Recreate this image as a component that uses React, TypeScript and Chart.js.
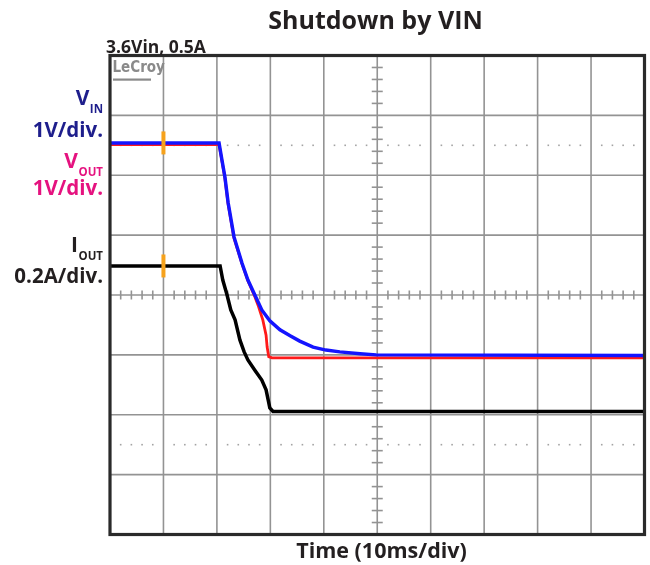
import React, { useEffect, useRef } from "react";
import { Chart, registerables } from "chart.js";

Chart.register(...registerables);

// ---- Data (read from the scope capture) ----
const VIN_TIME_MS = [0, 20.4, 20.95, 21.5, 22.1, 23.2, 24.7, 25.8, 27.1, 28.4, 29.9, 31.8, 33.7, 35.5, 38.0, 40.4, 43.0, 46.8, 49.8, 100];
const VIN_VOLTS = [3.55, 3.55, 3.26, 2.98, 2.55, 1.98, 1.54, 1.26, 1.01, 0.76, 0.58, 0.43, 0.33, 0.24, 0.14, 0.09, 0.06, 0.03, 0.01, 0];

const VOUT_TIME_MS = [0, 20.4, 20.95, 21.5, 22.1, 23.2, 24.7, 25.8, 27.1, 27.7, 28.6, 29.2, 29.4, 29.7, 30.3, 100];
const VOUT_VOLTS = [3.56, 3.56, 3.29, 3.0, 2.57, 2.0, 1.57, 1.29, 1.02, 0.88, 0.63, 0.38, 0.18, 0.02, 0, 0];

const IOUT_TIME_MS = [0, 20.6, 21.1, 21.9, 22.6, 23.4, 24.3, 25.1, 25.8, 27.1, 28.4, 29.2, 29.6, 29.9, 30.5, 100];
const IOUT_AMPS = [0.486, 0.486, 0.439, 0.389, 0.339, 0.306, 0.239, 0.199, 0.172, 0.138, 0.105, 0.072, 0.038, 0.012, 0, 0];

// channel scale (per division) and ground level (in divisions from centre)
const VIN_PER_DIV = 1;
const VIN_GROUND_DIV = -1.01;
const VOUT_PER_DIV = 1;
const VOUT_GROUND_DIV = -1.05;
const IOUT_PER_DIV = 0.2;
const IOUT_GROUND_DIV = -1.945;

const TIME_DIVS = 10;
const MS_PER_DIV = 10;
const HALF_VERT_DIVS = 4;
const MARKER_TIME_MS = 10;
const DOTTED_DIVS = [2.5, -2.5];

// ---- Text ----
const TITLE = "Shutdown by VIN";
const SUBTITLE = "3.6Vin, 0.5A";
const X_TITLE = "Time (10ms/div)";
const LOGO = "LeCroy";

const FONT = '"Open Sans", "Noto Sans", sans-serif';
const NAVY = "#1e1e8c";
const MAGENTA = "#e5127f";
const DARK = "#231f20";
const GRID = "#939393";

const toPoints = (t: number[], v: number[], perDiv: number, ground: number) =>
  t.map((tm, i) => ({ x: tm, y: v[i] / perDiv + ground }));

const scopePlugin = {
  id: "scope",
  beforeDatasetsDraw(chart: any) {
    const { ctx, chartArea: a, scales } = chart;
    const x = scales.x;
    const y = scales.y;
    ctx.save();
    ctx.strokeStyle = GRID;
    ctx.lineWidth = 1.6;
    const line = (x1: number, y1: number, x2: number, y2: number) => {
      ctx.beginPath();
      ctx.moveTo(x1, y1);
      ctx.lineTo(x2, y2);
      ctx.stroke();
    };
    for (let i = 1; i <= TIME_DIVS; i++) {
      const px = x.getPixelForValue(i * MS_PER_DIV);
      line(px, a.top, px, a.bottom);
    }
    for (let j = -HALF_VERT_DIVS + 1; j < HALF_VERT_DIVS; j++) {
      const py = y.getPixelForValue(j);
      line(a.left, py, a.right, py);
    }
    const cx = x.getPixelForValue((TIME_DIVS / 2) * MS_PER_DIV);
    const cy = y.getPixelForValue(0);
    for (let k = 1; k < TIME_DIVS * 5; k++) {
      if (k % 5 === 0) continue;
      const px = x.getPixelForValue((k * MS_PER_DIV) / 5);
      line(px, cy - 4.5, px, cy + 4.5);
    }
    for (let k = 1; k < HALF_VERT_DIVS * 2 * 5; k++) {
      if (k % 5 === 0) continue;
      const py = y.getPixelForValue(-HALF_VERT_DIVS + k / 5);
      line(cx - 5.5, py, cx + 5.5, py);
    }
    ctx.fillStyle = "#a3a3a3";
    for (const d of DOTTED_DIVS) {
      const py = y.getPixelForValue(d);
      for (let k = 1; k < TIME_DIVS * 5; k++) {
        if (k % 5 === 0) continue;
        const px = x.getPixelForValue((k * MS_PER_DIV) / 5);
        ctx.fillRect(px - 0.8, py - 0.8, 1.6, 1.6);
      }
    }
    ctx.restore();
  },
  afterDatasetsDraw(chart: any) {
    const { ctx, chartArea: a, scales } = chart;
    const x = scales.x;
    const y = scales.y;
    ctx.save();
    // orange markers
    ctx.fillStyle = "#f6a21c";
    const mx = x.getPixelForValue(MARKER_TIME_MS);
    const levels = [VIN_VOLTS[0] / VIN_PER_DIV + VIN_GROUND_DIV, IOUT_AMPS[0] / IOUT_PER_DIV + IOUT_GROUND_DIV];
    for (const lv of levels) {
      const py = y.getPixelForValue(lv);
      ctx.fillRect(mx - 2, py - 11.5, 4, 23);
    }
    // frame
    ctx.strokeStyle = "#2a2a2a";
    ctx.lineWidth = 3.2;
    ctx.strokeRect(a.left, a.top, a.right - a.left, a.bottom - a.top);
    // logo
    ctx.fillStyle = "#8a8a8a";
    ctx.font = 'bold 15px "DejaVu Sans Condensed", "Liberation Sans Narrow", sans-serif';
    ctx.textAlign = "left";
    ctx.textBaseline = "alphabetic";
    ctx.fillText(LOGO, a.left + 2.5, a.top + 16.5);
    ctx.fillRect(a.left + 3, a.top + 23, 38, 2.2);
    ctx.restore();
  },
  afterDraw(chart: any) {
    const { ctx } = chart;
    ctx.save();
    ctx.textBaseline = "alphabetic";
    // title
    ctx.fillStyle = DARK;
    ctx.font = `bold 25px ${FONT}`;
    ctx.textAlign = "center";
    ctx.fillText(TITLE, 375.5, 29);
    // subtitle
    ctx.font = `bold 17.5px ${FONT}`;
    ctx.textAlign = "left";
    ctx.fillText(SUBTITLE, 106, 53);
    // x title
    ctx.font = `bold 21.5px ${FONT}`;
    ctx.textAlign = "center";
    ctx.fillText(X_TITLE, 381.5, 558);

    // left channel labels
    const RIGHT = 103;
    const label = (main: string, sub: string, color: string, base: number) => {
      ctx.fillStyle = color;
      ctx.textAlign = "right";
      ctx.font = `bold 11.5px ${FONT}`;
      const sw = ctx.measureText(sub).width;
      ctx.fillText(sub, RIGHT, base + 8);
      ctx.font = `bold 21px ${FONT}`;
      ctx.fillText(main, RIGHT - sw - 0.5, base);
    };
    const line = (text: string, color: string, base: number) => {
      ctx.fillStyle = color;
      ctx.textAlign = "right";
      ctx.font = `bold 20.5px ${FONT}`;
      ctx.fillText(text, RIGHT, base);
    };
    label("V", "IN", NAVY, 105);
    line("1V/div.", NAVY, 137);
    label("V", "OUT", MAGENTA, 168);
    line("1V/div.", MAGENTA, 195);
    label("I", "OUT", DARK, 252);
    line("0.2A/div.", DARK, 283);
    ctx.restore();
  },
};

export default function App() {
  const ref = useRef<HTMLCanvasElement | null>(null);
  useEffect(() => {
    if (!ref.current) return;
    const chart = new Chart(ref.current, {
      type: "line",
      data: {
        datasets: [
          {
            label: "VIN",
            data: toPoints(VIN_TIME_MS, VIN_VOLTS, VIN_PER_DIV, VIN_GROUND_DIV),
            borderColor: "#1414ff",
            borderWidth: 3.5,
            pointRadius: 0,
            tension: 0,
            order: 0,
          },
          {
            label: "VOUT",
            data: toPoints(VOUT_TIME_MS, VOUT_VOLTS, VOUT_PER_DIV, VOUT_GROUND_DIV),
            borderColor: "#ff1a1a",
            borderWidth: 2.8,
            pointRadius: 0,
            tension: 0,
            order: 1,
          },
          {
            label: "IOUT",
            data: toPoints(IOUT_TIME_MS, IOUT_AMPS, IOUT_PER_DIV, IOUT_GROUND_DIV),
            borderColor: "#000000",
            borderWidth: 3.5,
            pointRadius: 0,
            tension: 0,
            order: 2,
          },
        ],
      },
      options: {
        animation: false,
        responsive: false,
        devicePixelRatio: 1,
        layout: { padding: { left: 110, right: 5.5, top: 55.5, bottom: 30.5 } },
        plugins: { legend: { display: false }, tooltip: { enabled: false }, title: { display: false } },
        scales: {
          x: { type: "linear", display: false, min: 0, max: TIME_DIVS * MS_PER_DIV },
          y: { type: "linear", display: false, min: -HALF_VERT_DIVS, max: HALF_VERT_DIVS },
        },
      },
      plugins: [scopePlugin],
    });
    return () => chart.destroy();
  }, []);
  return (
    <div style={{ position: "absolute", left: 0, top: 0, width: 650, height: 565, background: "#fff" }}>
      <canvas ref={ref} width={650} height={565} style={{ display: "block" }} />
    </div>
  );
}
